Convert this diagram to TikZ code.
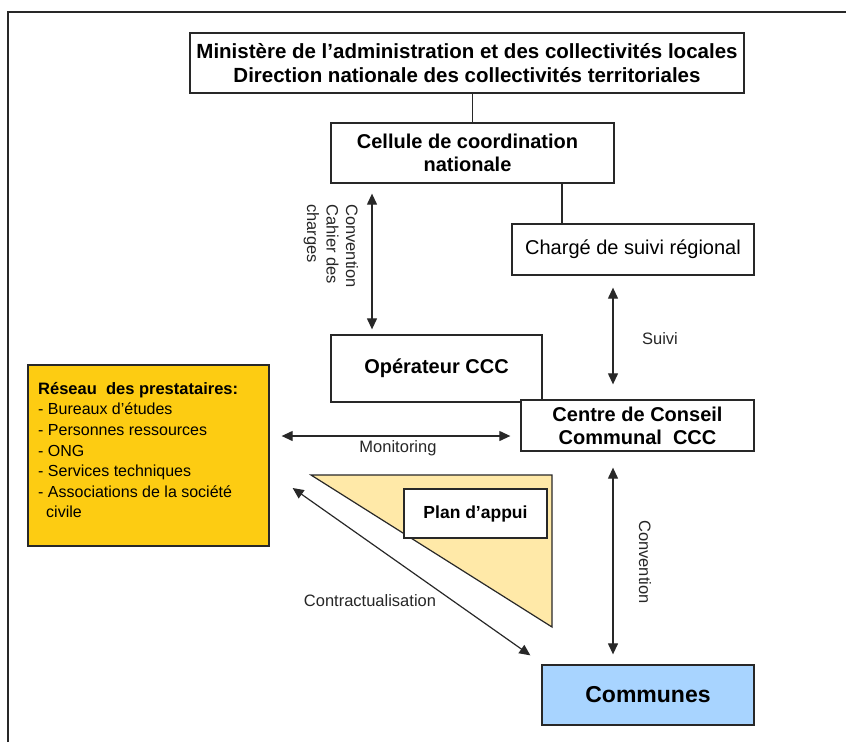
\documentclass[tikz,border=0pt]{standalone}
\usepackage{fontspec}
\setmainfont{Liberation Sans}
\usetikzlibrary{arrows.meta,calc}
\definecolor{gold}{RGB}{253,204,18}
\definecolor{lightgold}{RGB}{255,233,168}
\definecolor{lightblue}{RGB}{168,212,255}
\definecolor{edge}{RGB}{40,40,40}
\tikzset{
  box/.style={draw=edge, line width=1.3pt, fill=white, inner sep=0pt, align=center,
              font=\fontsize{20}{23}\selectfont\bfseries},
  dbl/.style={{Triangle[length=11pt,width=10pt]}-{Triangle[length=11pt,width=10pt]}, line width=1.2pt, draw=edge},
  lbl/.style={font=\fontsize{16.5}{19.5}\selectfont, text=black!85, inner sep=0pt},
  plainline/.style={draw=edge, line width=1.2pt}
}
\begin{document}
\begin{tikzpicture}[x=1pt,y=1pt]
\useasboundingbox (0,0) rectangle (846,-742);
% outer frame
\draw[line width=1.5pt, draw=edge] (8,-742) -- (8,-12) -- (846,-12);

% boxes
\node[box, font=\fontsize{20.5}{23.5}\selectfont\bfseries, minimum width=554pt, minimum height=60pt] (min) at (467,-63)
  {Ministère de l’administration et des collectivités locales\\Direction nationale des collectivités territoriales};
\node[box, minimum width=283pt, minimum height=60pt] (cell) at (472.5,-153)
  {Cellule de coordination\hspace*{10pt}\\nationale\hspace*{10pt}};
\node[box, font=\fontsize{20}{23}\selectfont, minimum width=242pt, minimum height=51pt] (charge) at (633,-249.5)
  {Chargé de suivi régional};
\node[box, minimum width=211pt, minimum height=67pt] (oper) at (436.5,-368.5)
  {Opérateur CCC};
\node[box, minimum width=233pt, minimum height=51pt] (centre) at (637.5,-425.5)
  {Centre de Conseil\\Communal\ \ CCC};
\node[box, fill=gold, minimum width=241pt, minimum height=181pt] (reseau) at (148.5,-455.5) {};
\node[anchor=north west, inner sep=0pt, align=left, font=\fontsize{16}{20.6}\selectfont] (reseautext) at (38,-382)
  {\textbf{\fontsize{16.5}{20.6}\selectfont Réseau\ \ des prestataires:}\\- Bureaux d’études\\- Personnes ressources\\- ONG\\- Services techniques\\- Associations de la société\\\hspace*{8pt}civile};

% triangle
\draw[line width=1.2pt, draw=edge, fill=lightgold] (311,-475) -- (552,-475) -- (552,-627) -- cycle;
\node[box, font=\fontsize{17.5}{21}\selectfont\bfseries, minimum width=143pt, minimum height=49pt] (plan) at (475.5,-513.5)
  {Plan d’appui};

\node[box, fill=lightblue, font=\fontsize{23}{27}\selectfont\bfseries, minimum width=212pt, minimum height=60pt] (communes) at (648,-695)
  {Communes};

% plain connectors
\draw[plainline] (cell.north) -- (cell.north |- min.south);
\draw[plainline] ($(cell.south)+(89.5,0)$) -- ($(charge.north)+(-71,0)$);

% arrows
\draw[dbl] ($(cell.south)+(-100.5,-10)$) -- ($(oper.north)+(-64.5,5)$);
\draw[dbl] ($(charge.south)+(-20,-12)$) -- ($(centre.north)+(-24.5,15)$);
\draw[dbl] ($(reseau.east)+(12,19.5)$) -- ($(centre.west)+(-10,-10.5)$);
\draw[dbl] ($(centre.south)+(-24.5,-16)$) -- ($(communes.north)+(-35,10)$);
\draw[dbl] ($(reseau.east)+(23,-32.5)$) -- ($(communes.north west)+(-11,9)$);

% labels
\node[lbl, rotate=-90, anchor=west, align=left] (lconv1) at (331,-204)
  {Convention\\Cahier des\\charges};
\node[lbl] (lsuivi) at (660,-339) {Suivi};
\node[lbl] (lmon) at (398,-448) {Monitoring};
\node[lbl] (lcontr) at (370,-601) {Contractualisation};
\node[lbl, rotate=-90] (lconv2) at (645,-562) {Convention};
\end{tikzpicture}
\end{document}
